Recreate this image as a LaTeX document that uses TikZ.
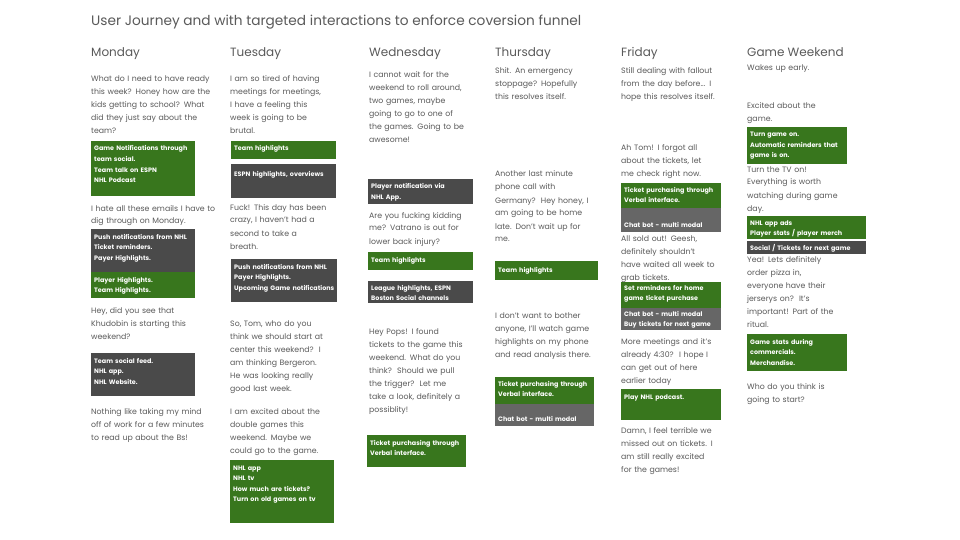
\documentclass[tikz,border=0pt]{standalone}
\usepackage{fontspec}
\setmainfont{Poppins}
\definecolor{jgreen}{HTML}{38761D}
\definecolor{jdark}{HTML}{4A4A4A}
\definecolor{jgray}{HTML}{666666}
\definecolor{jtext}{HTML}{5A5A5A}
\tikzset{
  txt/.style={anchor=base west, inner sep=0pt, text width=160pt, align=left,
    font=\fontsize{7.8}{13}\selectfont, text=jtext},
  head/.style={anchor=base west, inner sep=0pt, font=\fontsize{12}{14}\selectfont, text=jtext},
  ttl/.style={anchor=base west, inner sep=0pt, font=\fontsize{13.7}{16}\selectfont, text=jtext},
  boxshape/.style={anchor=north west, inner sep=0pt, draw=none, rectangle},
  btxt/.style={anchor=base west, inner sep=0pt, text width=130pt, align=left,
    font=\fontsize{6.4}{10.5}\selectfont\bfseries, text=white}
}
\newcommand\jtxt[4]{\node[txt] (#1) at (#2,#3) {#4};}
\newcommand\jbox[8]{\node[boxshape, fill=#2, minimum width=#5pt, minimum height=#6pt] (#1) at (#3,#4) {};
  \node[btxt] (#1t) at ([xshift=3pt,yshift=-#7pt]#1.north west) {#8};}
\begin{document}
\begin{tikzpicture}[x=1pt,y=-1pt]
\useasboundingbox[fill=white] (0,0) rectangle (960,540);
\node[ttl] (title) at (91,26) {User Journey and with targeted interactions to enforce coversion funnel};
% headings
\node[head] (hmon) at (91,57) {Monday};
\node[head] (htue) at (230,57) {Tuesday};
\node[head] (hwed) at (369,57) {Wednesday};
\node[head] (hthu) at (495,57) {Thursday};
\node[head] (hfri) at (621,57) {Friday};
\node[head] (hgw) at (747,57) {Game Weekend};
% Monday
\jtxt{m1}{91}{82}{What do I need to have ready\\this week? Honey how are the\\kids getting to school? What\\did they just say about the\\team?}
\jbox{mb1}{jgreen}{91}{141}{104}{55}{10}{Game Notifications through\\team social.\\Team talk on ESPN\\NHL Podcast}
\jtxt{m2}{91}{211}{I hate all these emails I have to\\dig through on Monday.}
\jbox{mb2}{jdark}{91}{229}{104}{43}{10}{Push notifications from NHL\\Ticket reminders.\\Payer Highlights.}
\jbox{mb3}{jgreen}{91}{272}{104}{26}{10}{Player Highlights.\\Team Highlights.}
\jtxt{m3}{91}{313}{Hey, did you see that\\Khudobin is starting this\\weekend?}
\jbox{mb4}{jdark}{91}{353}{104}{43}{10}{Team social feed.\\NHL app.\\NHL Website.}
\jtxt{m4}{91}{414}{Nothing like taking my mind\\off of work for a few minutes\\to read up about the Bs!}
% Tuesday
\jtxt{t1}{230}{82}{I am so tired of having\\meetings for meetings,\\I have a feeling this\\week is going to be\\brutal.}
\jbox{tb1}{jgreen}{231}{141}{105}{18}{10}{Team highlights}
\jbox{tb2}{jdark}{231}{164}{105}{34}{12}{ESPN highlights, overviews}
\jtxt{t2}{230}{210}{Fuck! This day has been\\crazy, I haven't had a\\second to take a\\breath.}
\jbox{tb3}{jdark}{231}{259}{106}{43}{10}{Push notifications from NHL\\Payer Highlights.\\Upcoming Game notifications}
\jtxt{t3}{230}{326}{So, Tom, who do you\\think we should start at\\center this weekend?\ \ I\\am thinking Bergeron.\\He was looking really\\good last week.}
\jtxt{t4}{230}{414}{I am excited about the\\double games this\\weekend. Maybe we\\could go to the game.}
\jbox{tb4}{jgreen}{230}{460}{104}{63}{10}{NHL app\\NHL tv\\How much are tickets?\\Turn on old games on tv}
% Wednesday
\jtxt{w1}{369}{78}{I cannot wait for the\\weekend to roll around,\\two games, maybe\\going to go to one of\\the games. Going to be\\awesome!}
\jbox{wb1}{jdark}{368}{179}{105}{25}{10}{Player notification via\\NHL App.}
\jtxt{w2}{369}{218}{Are you fucking kidding\\me? Vatrano is out for\\lower back injury?}
\jbox{wb2}{jgreen}{368}{252}{105}{18}{10}{Team highlights}
\jbox{wb3}{jdark}{368}{281}{105}{22}{9}{League highlights, ESPN\\Boston Social channels}
\jtxt{w3}{369}{334}{Hey Pops! I found\\tickets to the game this\\weekend. What do you\\think?\ \ Should we pull\\the trigger?\ \ Let me\\take a look, definitely a\\possiblity!}
\jbox{wb4}{jgreen}{367}{435}{99}{32}{10}{Ticket purchasing through\\Verbal interface.}
% Thursday
\jtxt{h1}{495}{74}{Shit. An emergency\\stoppage? Hopefully\\this resolves itself.}
\jtxt{h2}{495}{177}{Another last minute\\phone call with\\Germany?\ \ Hey honey, I\\am going to be home\\late. Don't wait up for\\me.}
\jbox{hb1}{jgreen}{495}{261}{103}{19}{11}{Team highlights}
\jtxt{h3}{495}{318}{I don't want to bother\\anyone, I'll watch game\\highlights on my phone\\and read analysis there.}
\jbox{hb2}{jgreen}{495}{377}{99}{27}{9}{Ticket purchasing through\\Verbal interface.}
\jbox{hb3}{jgray}{495}{404}{99}{22}{17}{Chat bot - multi modal}
% Friday
\jtxt{f1}{621}{74}{Still dealing with fallout\\from the day before... I\\hope this resolves itself.}
\jtxt{f2}{621}{151}{Ah Tom! I forgot all\\about the tickets, let\\me check right now.}
\jbox{fb1}{jgreen}{621}{183}{100}{25}{9}{Ticket purchasing through\\Verbal interface.}
\jbox{fb2}{jgray}{621}{208}{100}{24}{19}{Chat bot - multi modal}
\jtxt{f3}{621}{241}{All sold out! Geesh,\\definitely shouldn't\\have waited all week to\\grab tickets.}
\jbox{fb3}{jgreen}{621}{282}{100}{26}{8}{Set reminders for home\\game ticket purchase}
\jbox{fb4}{jgray}{621}{308}{100}{22}{8}{Chat bot - multi modal\\Buy tickets for next game}
\jtxt{f4}{621}{344}{More meetings and it's\\already 4:30?\ \ I hope I\\can get out of here\\earlier today}
\jbox{fb5}{jgreen}{621}{389}{100}{31}{10}{Play NHL podcast.}
\jtxt{f5}{621}{433}{Damn, I feel terrible we\\missed out on tickets. I\\am still really excited\\for the games!}
% Game Weekend
\jtxt{g1}{747}{71}{Wakes up early.}
\jtxt{g2}{747}{109}{Excited about the\\game.}
\jbox{gb1}{jgreen}{747}{127}{100}{37}{10}{Turn game on.\\Automatic reminders that\\game is on.}
\jtxt{g3}{747}{172}{Turn the TV on!\\Everything is worth\\watching during game\\day.}
\jbox{gb2}{jgreen}{747}{216}{119}{23}{9}{NHL app ads\\Player stats / player merch}
\jbox{gb3}{jdark}{747}{241}{119}{13}{9.5}{Social / Tickets for next game}
\jtxt{g4}{747}{262}{Yea! Lets definitely\\order pizza in,\\everyone have their\\jerserys on?\ \ It's\\important! Part of the\\ritual.}
\jbox{gb4}{jgreen}{747}{334}{100}{37}{10}{Game stats during\\commercials.\\Merchandise.}
\jtxt{g5}{747}{389}{Who do you think is\\going to start?}
\end{tikzpicture}
\end{document}
